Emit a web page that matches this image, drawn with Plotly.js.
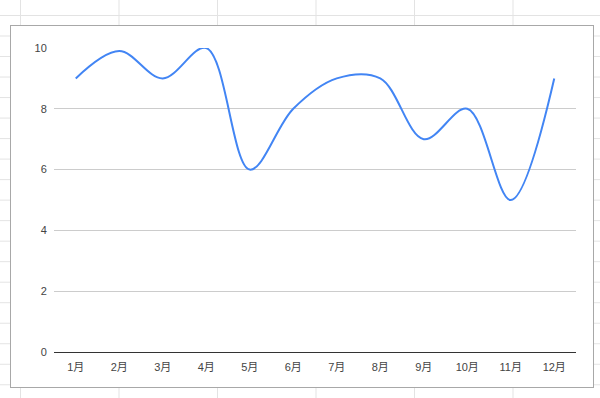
<!DOCTYPE html>
<html>
<head>
<meta charset="utf-8">
<script src="https://cdn.plot.ly/plotly-3.0.1.min.js"></script>
<style>
  html, body { margin: 0; padding: 0; width: 600px; height: 398px; overflow: hidden; }
  body {
    background-color: #ffffff;
    background-image:
      linear-gradient(to right, #e3e3e3 1px, transparent 1px),
      linear-gradient(to bottom, #e3e3e3 1px, transparent 1px);
    background-size: 98.5px 20.52px;
    background-position: 20px 15px;
  }
  #box {
    position: absolute; left: 10px; top: 25px;
    width: 582px; height: 361px;
    border: 1px solid #a8a8a8;
    background: #ffffff;
  }
  #chart { width: 582px; height: 361px; }
</style>
</head>
<body>
<div id="box"><div id="chart"></div></div>
<script>
const months = ["1月","2月","3月","4月","5月","6月","7月","8月","9月","10月","11月","12月"];
const values = [9, 9.9, 9, 10, 6, 8, 9, 9, 7, 8, 5, 9];
const yTicks = [0, 2, 4, 6, 8, 10];

const fontFam = "'Liberation Sans', Arial, 'Noto Sans CJK JP', 'Noto Sans CJK SC', sans-serif";

const trace = {
  x: months,
  y: values,
  type: "scatter",
  mode: "lines",
  line: { color: "#4285f4", width: 2, shape: "spline", smoothing: 1 },
  cliponaxis: false,
  hoverinfo: "x+y"
};

const layout = {
  width: 582,
  height: 361,
  margin: { l: 43, r: 17, t: 22, b: 35 },
  paper_bgcolor: "#ffffff",
  plot_bgcolor: "#ffffff",
  showlegend: false,
  font: { family: fontFam, size: 11, color: "#444444" },
  xaxis: {
    type: "category",
    range: [-0.5, 11.5],
    showgrid: false,
    showline: false,
    zeroline: false,
    ticks: "outside",
    ticklen: 5,
    tickcolor: "rgba(0,0,0,0)",
    tickfont: { family: fontFam, size: 11, color: "#444444" }
  },
  yaxis: {
    range: [0, 10],
    tickvals: yTicks,
    ticktext: yTicks.map(String),
    showgrid: true,
    gridcolor: "#cccccc",
    gridwidth: 1,
    zeroline: true,
    zerolinecolor: "#333333",
    zerolinewidth: 1,
    showline: false,
    ticks: "outside",
    ticklen: 4,
    tickcolor: "rgba(0,0,0,0)",
    tickfont: { family: fontFam, size: 11, color: "#444444" }
  }
};

Plotly.newPlot("chart", [trace], layout, { displayModeBar: false, staticPlot: true });
</script>
</body>
</html>
